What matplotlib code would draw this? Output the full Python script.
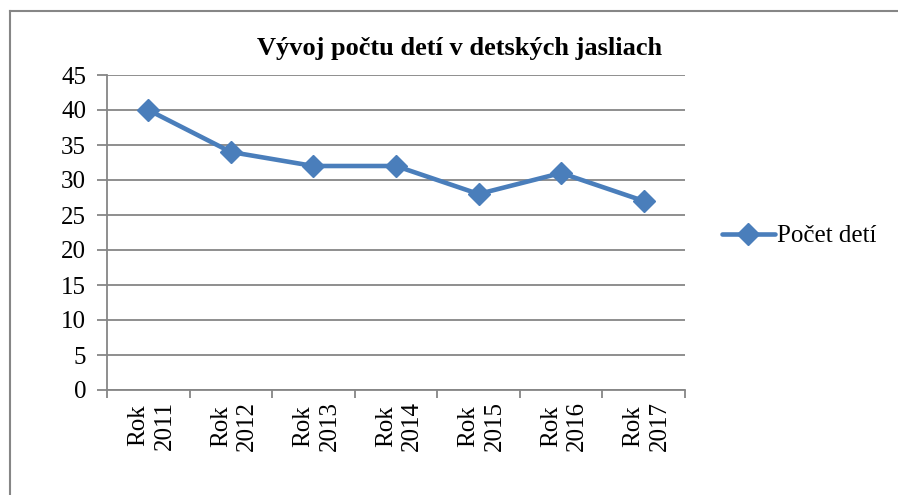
import matplotlib
matplotlib.use("Agg")
import matplotlib.pyplot as plt
import matplotlib.transforms as mtransforms
from matplotlib.lines import Line2D

years = ["Rok\n2011", "Rok\n2012", "Rok\n2013", "Rok\n2014", "Rok\n2015", "Rok\n2016", "Rok\n2017"]
children = [40, 34, 32, 32, 28, 31, 27]

plt.rcParams["font.family"] = ["Liberation Serif", "DejaVu Serif"]

fig = plt.figure(figsize=(8.98, 4.95), dpi=100)
ax = fig.add_axes([107 / 898, 1 - 390 / 495, 578 / 898, 315 / 495])

grid_c = "#868686"
blue = "#4A7EBB"

x = list(range(len(children)))
ax.plot(x, children, color=blue, linewidth=3.3, marker="D", markersize=11,
        label="Počet detí", solid_capstyle="round", zorder=3)

ax.set_ylim(0, 45)
ax.set_yticks(range(0, 46, 5))
ax.set_xlim(-0.5, len(children) - 0.5)
ax.set_xticks(x)
ax.set_xticklabels(years, rotation=90, ha="center", va="top",
                   multialignment="center", linespacing=1.25)
ax.set_xticks([i - 0.5 for i in range(len(children) + 1)], minor=True)

ax.yaxis.grid(True, color=grid_c, linewidth=1.3)
ax.set_axisbelow(True)
for s in ["top", "right"]:
    ax.spines[s].set_visible(False)
for s in ["left", "bottom"]:
    ax.spines[s].set_color(grid_c)
    ax.spines[s].set_linewidth(1.3)

ax.tick_params(axis="y", length=7, color=grid_c, width=1.3, labelsize=18, pad=8)
ax.tick_params(axis="x", which="major", length=0, labelsize=18, pad=8)
ax.tick_params(axis="x", which="minor", length=6, color=grid_c, width=1.3)
shift = mtransforms.ScaledTranslation(3 / 100, 0, fig.dpi_scale_trans)
for lbl in ax.get_xticklabels():
    lbl.set_transform(lbl.get_transform() + shift)

fig.text(460 / 898, 1 - 48 / 495, "Vývoj počtu detí v detských jasliach",
         ha="center", va="center", fontsize=19, fontweight="bold")

leg = fig.legend(loc="center left", bbox_to_anchor=(712 / 898, 1 - 236 / 495),
                 frameon=False, fontsize=18, handlelength=2.1, handletextpad=0.1,
                 borderaxespad=0)

fig.add_artist(Line2D([9.5 / 898, 9.5 / 898], [0, 1 - 10.5 / 495], color=grid_c, linewidth=1.5))
fig.add_artist(Line2D([9.5 / 898, 1], [1 - 10.5 / 495, 1 - 10.5 / 495], color=grid_c, linewidth=1.5))

fig.savefig("out.png", dpi=100)
